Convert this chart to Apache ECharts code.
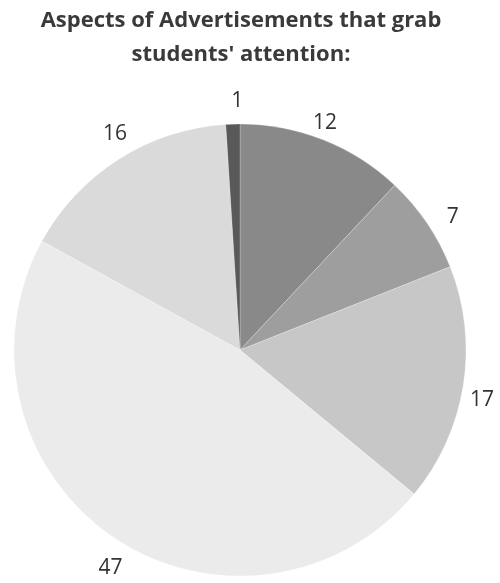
<!DOCTYPE html>
<html>
<head>
<meta charset="utf-8">
<script src="https://cdn.jsdelivr.net/npm/echarts@6/dist/echarts.min.js"></script>
<style>
html,body{margin:0;padding:0;background:#fff;}
#chart{width:500px;height:583px;}
</style>
</head>
<body>
<div id="chart"></div>
<script>
// Data (clockwise from 12 o'clock)
const categories = ['A', 'B', 'C', 'D', 'E', 'F'];
const values = [12, 7, 17, 47, 16, 1];
const titleLines = ['Aspects of Advertisements that grab', "students' attention:"];

const colors = ['#898989', '#9d9e9d', '#c6c7c6', '#eaebea', '#d9dad9', '#595959'];
const labelNudge = [[-7, 5], [6, 7.5], [-5, 11], [11, 11], [9, -5], [5, 1]];

const CX = 240, CY = 350, R = 226, LABEL_R = 250;
const total = values.reduce((a, b) => a + b, 0);
const midAngles = [];
let acc = 0;
values.forEach(v => { midAngles.push((acc + v / 2) / total * 2 * Math.PI); acc += v; });

const chart = echarts.init(document.getElementById('chart'), null, {renderer: 'canvas'});
chart.setOption({
  animation: false,
  title: {
    text: titleLines.join('\n'),
    left: 236,
    top: -1,
    textAlign: 'center',
    textStyle: {
      fontFamily: 'Open Sans',
      fontWeight: 'bold',
      fontSize: 22,
      lineHeight: 34,
      color: '#3a3a3a'
    }
  },
  series: [{
    type: 'pie',
    center: [CX, CY],
    radius: [0, R],
    startAngle: 90,
    clockwise: true,
    avoidLabelOverlap: false,
    minShowLabelAngle: 0,
    data: categories.map((c, i) => ({name: c, value: values[i], itemStyle: {color: colors[i]}})),
    itemStyle: {borderColor: 'rgba(255,255,255,0.45)', borderWidth: 0.5},
    label: {
      show: true,
      position: 'outside',
      formatter: '{c}',
      fontFamily: 'Open Sans',
      fontSize: 21,
      color: '#333333'
    },
    labelLine: {show: false},
    labelLayout: function (p) {
      const i = p.dataIndex;
      const a = midAngles[i];
      return {
        x: CX + Math.sin(a) * LABEL_R + labelNudge[i][0],
        y: CY - Math.cos(a) * LABEL_R + labelNudge[i][1],
        align: 'center',
        verticalAlign: 'middle'
      };
    },
    emphasis: {disabled: true}
  }]
});
</script>
</body>
</html>
